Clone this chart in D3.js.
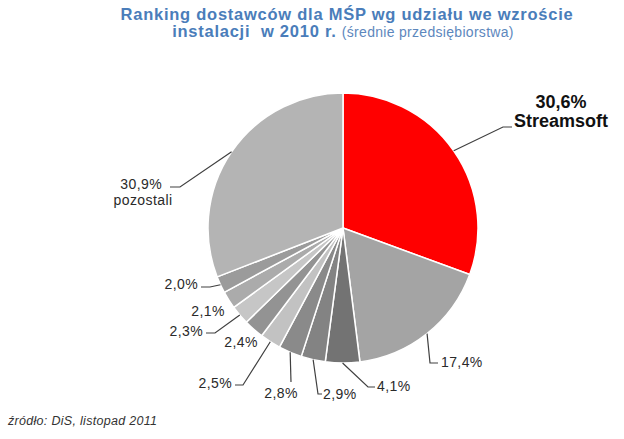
<!DOCTYPE html>
<html><head><meta charset="utf-8">
<script src="https://cdn.jsdelivr.net/npm/d3@7"></script>
<style>
html,body{margin:0;padding:0;background:#fff;}
svg{display:block;font-family:"Liberation Sans",Arial,sans-serif;}
</style></head>
<body>
<svg id="chart" width="624" height="439"></svg>
<script>
// ---- data ----
const names = ["Streamsoft","","","","","","","","","","pozostali"];
const values = [30.6,17.4,4.1,2.9,2.8,2.5,2.4,2.3,2.1,2.0,30.9];
const valueLabels = ["30,6%","17,4%","4,1%","2,9%","2,8%","2,5%","2,4%","2,3%","2,1%","2,0%","30,9%"];
const sliceColors = ["#ff0000","#a4a4a4","#737373","#838383","#8a8a8a","#c2c2c2","#939393","#c6c6c6","#ababab","#9b9b9b","#b4b4b4"];

// ---- layout (label placement: text anchor point, elbow) ----
const labelLayout = [
  {tx:561, ty:108, anchor:"middle", elbow:[503,127], end:[512,127], big:true},
  {tx:441, ty:367, anchor:"start", elbow:[430,363], end:[438,363]},
  {tx:377, ty:391, anchor:"start", elbow:[368,387], end:[375,387]},
  {tx:323, ty:399, anchor:"start", elbow:[318,394], end:[322,394]},
  {tx:281, ty:398, anchor:"middle", elbow:[291,382], end:null},
  {tx:232, ty:388, anchor:"end", elbow:[243,385], end:[235,385]},
  {tx:241, ty:347, anchor:"middle", elbow:null, end:null, noLine:true},
  {tx:203, ty:336, anchor:"end", elbow:[215,333], end:[206,333]},
  {tx:208, ty:316, anchor:"middle", elbow:null, end:null, noLine:true},
  {tx:198, ty:289, anchor:"end", elbow:[210,287], end:[201,287]},
  {tx:162, ty:189, anchor:"end", elbow:[180,187], end:[170,187], sub:true}
];

const svg = d3.select("#chart");
const cx = 343, cy = 228, R = 135;

// title
svg.append("text").attr("text-anchor","middle").attr("fill","#4a7dba")
  .attr("font-weight","bold").attr("font-size",16.5).attr("letter-spacing",0.75)
  .attr("x",347).attr("y",20).text("Ranking dostawców dla MŚP wg udziału we wzroście");
const t2 = svg.append("text").attr("text-anchor","middle").attr("fill","#4a7dba")
  .attr("font-weight","bold").attr("font-size",16.5).attr("letter-spacing",0.75)
  .attr("x",343).attr("y",37);
t2.append("tspan").text("instalacji\u00a0 w 2010 r. ");
t2.append("tspan").attr("font-weight","normal").attr("font-size",14).attr("letter-spacing",0.3)
  .attr("fill","#5d87bd").text("(średnie przedsiębiorstwa)");

// pie
const pie = d3.pie().sort(null).value(d=>d).startAngle(0).endAngle(2*Math.PI);
const arcs = pie(values);
const arc = d3.arc().innerRadius(0).outerRadius(R);
const g = svg.append("g").attr("transform",`translate(${cx},${cy})`);
g.selectAll("path").data(arcs).join("path")
  .attr("d",arc)
  .attr("fill",(d,i)=>sliceColors[i])
  .attr("stroke","#fff").attr("stroke-width",1.5).attr("stroke-linejoin","round");

// labels
arcs.forEach((a,i)=>{
  const L = labelLayout[i];
  const mid = (a.startAngle+a.endAngle)/2;
  const px = cx + R*Math.sin(mid), py = cy - R*Math.cos(mid);
  if(!L.noLine){
    const pts = [[px,py]];
    if(L.elbow) pts.push(L.elbow);
    if(L.end) pts.push(L.end);
    svg.append("path").attr("d",d3.line()(pts)).attr("fill","none")
      .attr("stroke","#404040").attr("stroke-width",1.2);
  }
  if(L.big){
    const t = svg.append("text").attr("text-anchor",L.anchor).attr("font-weight","bold")
      .attr("font-size",18).attr("fill","#111");
    t.append("tspan").attr("x",L.tx).attr("y",L.ty).text(valueLabels[i]);
    t.append("tspan").attr("x",L.tx).attr("y",L.ty+19).text(names[i]);
  } else {
    const t = svg.append("text").attr("text-anchor",L.anchor).attr("font-size",14)
      .attr("letter-spacing",0.4).attr("fill","#2a2a2a");
    t.append("tspan").attr("x",L.tx).attr("y",L.ty).text(valueLabels[i]);
    if(L.sub) t.append("tspan").attr("x",L.tx-19).attr("y",L.ty+16).attr("text-anchor","middle").text(names[i]);
  }
});

// source
svg.append("text").attr("x",8).attr("y",425).attr("font-size",12.5).attr("font-style","italic")
  .attr("letter-spacing",0.3).attr("fill","#333").text("źródło: DiS, listopad 2011");
</script>
</body></html>
